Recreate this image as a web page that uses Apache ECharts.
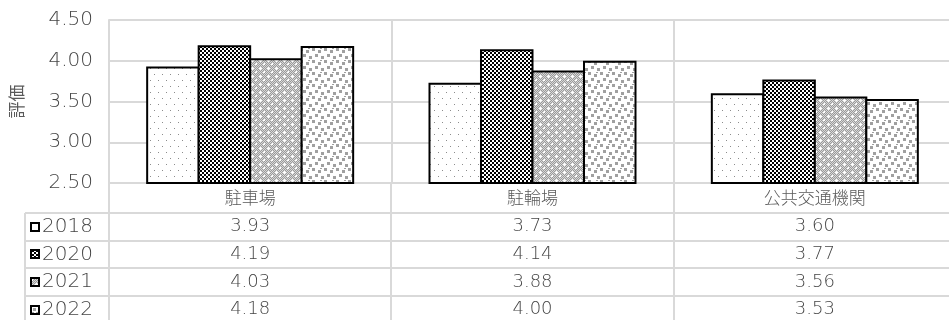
<!DOCTYPE html>
<html>
<head>
<meta charset="utf-8">
<script src="https://cdn.jsdelivr.net/npm/echarts@6/dist/echarts.min.js"></script>
<style>
html,body{margin:0;padding:0;overflow:hidden;background:#fff;}
#chart{width:956px;height:320px;}
</style>
</head>
<body>
<div id="chart"></div>
<script>
// data
var categories = ['駐車場', '駐輪場', '公共交通機関'];
var years = ['2018', '2020', '2021', '2022'];
var v2018 = [3.93, 3.73, 3.60];
var v2020 = [4.19, 4.14, 3.77];
var v2021 = [4.03, 3.88, 3.56];
var v2022 = [4.18, 4.00, 3.53];
var seriesValues = [v2018, v2020, v2021, v2022];
var yMin = 2.5, yMax = 4.5, yStep = 0.5;

var FONT = '"Noto Sans CJK JP", sans-serif';
var NUMFONT = '"DejaVu Sans", sans-serif';
var TXT = '#595959';
var NUMTXT = '#454545';
var LINE = '#d9d9d9';

function makePattern(w, h, draw) {
  var c = document.createElement('canvas');
  c.width = w; c.height = h;
  var ctx = c.getContext('2d');
  draw(ctx);
  return {image: c, repeat: 'repeat'};
}

// bar fills, one per year
var patterns = [
  makePattern(8, 12, function (ctx) {
    ctx.fillStyle = '#fff'; ctx.fillRect(0, 0, 8, 12);
    ctx.fillStyle = '#8c8c8c'; ctx.fillRect(2, 2, 1, 1); ctx.fillRect(6, 8, 1, 1);
  }),
  makePattern(4, 4, function (ctx) {
    ctx.fillStyle = '#000'; ctx.fillRect(0, 0, 4, 4);
    ctx.fillStyle = '#fff'; ctx.fillRect(0, 0, 2, 2); ctx.fillRect(2, 2, 2, 2);
  }),
  makePattern(8, 8, function (ctx) {
    for (var x = 0; x < 8; x++) for (var y = 0; y < 8; y++) {
      ctx.fillStyle = (x + y) % 2 ? '#9a9a9a' : '#d8d8d8';
      ctx.fillRect(x, y, 1, 1);
    }
    ctx.fillStyle = '#fff';
    ctx.fillRect(4, 3, 1, 3); ctx.fillRect(3, 4, 3, 1);
    ctx.fillRect(0, 7, 1, 2); ctx.fillRect(0, 0, 1, 1); ctx.fillRect(7, 0, 2, 1);
  }),
  makePattern(12, 12, function (ctx) {
    ctx.fillStyle = '#fff'; ctx.fillRect(0, 0, 12, 12);
    ctx.fillStyle = '#a0a0a0';
    ctx.fillRect(0, 0, 3, 3); ctx.fillRect(6, 2, 3, 3);
    ctx.fillRect(3, 6, 3, 3); ctx.fillRect(9, 8, 3, 3);
    ctx.fillRect(8, 0, 2, 1);
  })
];

var chart = echarts.init(document.getElementById('chart'));

// bars overlap by their 2px border, like the original
var series = years.map(function (y, i) {
  return {
    name: y,
    type: 'bar',
    data: seriesValues[i],
    barWidth: 53.5,
    barGap: '-3.738%',
    itemStyle: {color: patterns[i], borderColor: '#000', borderWidth: 2}
  };
});

chart.setOption({
  animation: false,
  textStyle: {fontFamily: FONT},
  grid: {left: 107, right: 0, top: 20, bottom: 137},
  xAxis: {
    type: 'category',
    data: categories,
    axisLine: {lineStyle: {color: LINE, width: 2}},
    axisTick: {show: false},
    axisLabel: {color: TXT, fontSize: 17, fontWeight: 300, margin: 6, fontFamily: FONT},
    splitLine: {show: true, lineStyle: {color: LINE, width: 2}}
  },
  yAxis: {
    type: 'value',
    min: yMin, max: yMax, interval: yStep,
    name: '評価',
    nameLocation: 'middle',
    nameGap: 84,
    nameTextStyle: {color: TXT, fontSize: 17, fontFamily: FONT},
    axisLine: {show: true, lineStyle: {color: LINE, width: 2}},
    axisTick: {show: false},
    axisLabel: {color: NUMTXT, fontSize: 20, fontWeight: 200, margin: 16, fontFamily: NUMFONT,
      formatter: function (v) { return v.toFixed(2); }},
    splitLine: {lineStyle: {color: LINE, width: 2}}
  },
  series: series
});

// data table under the plot
var c0 = chart.convertToPixel({xAxisIndex: 0}, 0);
var band = chart.convertToPixel({xAxisIndex: 0}, 1) - c0;
var axisY = chart.convertToPixel({yAxisIndex: 0}, yMin);
var tableLeft = 25, tableRight = 956;
var rowTop = 213, rowH = 27.6;
var g = [];

function line(x1, y1, x2, y2) {
  g.push({type: 'line', silent: true, z: 1,
    shape: {x1: x1, y1: y1, x2: x2, y2: y2},
    style: {stroke: LINE, lineWidth: 2}});
}

for (var r = 0; r < years.length; r++) {
  line(tableLeft, Math.round(rowTop + r * rowH), tableRight, Math.round(rowTop + r * rowH));
}
line(tableLeft, rowTop, tableLeft, 320);
for (var k = 0; k <= categories.length; k++) {
  var bx = Math.round(c0 - band / 2 + k * band);
  line(bx, axisY, bx, 320);
}

years.forEach(function (y, r) {
  var cy = rowTop + r * rowH + rowH / 2;
  g.push({type: 'rect', z: 5, shape: {x: 31, y: Math.round(cy) - 4, width: 8, height: 8},
    style: {fill: patterns[r], stroke: '#000', lineWidth: 2}});
  g.push({type: 'text', z: 5, x: 42, y: cy,
    style: {text: y, fill: NUMTXT, font: '200 20px ' + NUMFONT, textAlign: 'left', textVerticalAlign: 'middle'}});
  seriesValues[r].forEach(function (v, i) {
    g.push({type: 'text', z: 5, x: c0 + i * band, y: cy,
      style: {text: v.toFixed(2), fill: NUMTXT, font: '200 18px ' + NUMFONT, textAlign: 'center', textVerticalAlign: 'middle'}});
  });
});

chart.setOption({graphic: g});
</script>
</body>
</html>
